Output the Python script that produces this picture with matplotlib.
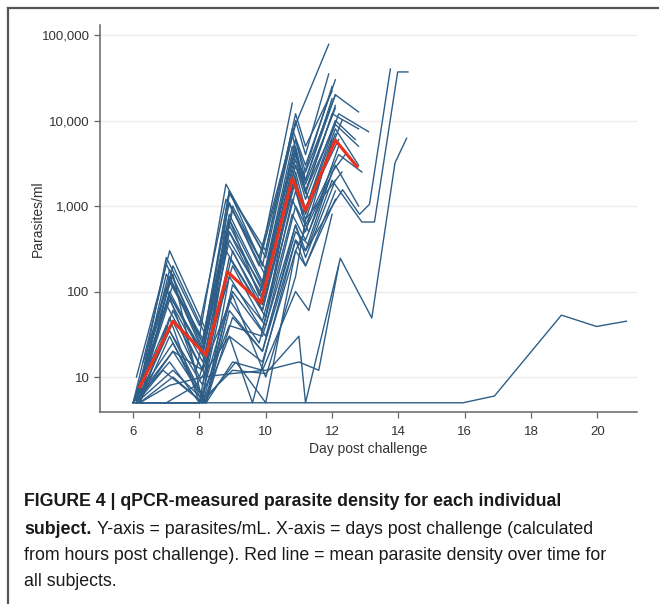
import matplotlib
matplotlib.use("Agg")
import matplotlib.pyplot as plt
from matplotlib.lines import Line2D
from matplotlib import font_manager

# ---------------- data ----------------
subject_days = [
    [6.1, 7.0, 8.0, 8.8, 9.9, 10.9, 11.9],
    [6.1, 7.1, 8.1, 8.9, 9.9, 10.8, 11.2, 12.1],
    [6.2, 7.2, 8.1, 9.0, 10.0, 10.9, 11.2, 12.1, 12.8],
    [6.0, 7.1, 8.2, 8.9, 9.9, 10.9, 11.3, 12.2, 13.1],
    [6.1, 7.0, 8.0, 8.8, 9.8, 10.8, 11.1, 12.0],
    [6.2, 7.2, 8.2, 9.0, 9.9, 10.9, 11.2, 12.1, 12.8],
    [6.1, 7.1, 8.1, 8.9, 9.9, 10.9, 11.2, 12.1],
    [6.0, 7.0, 8.1, 8.9, 10.0, 10.8, 11.2, 12.0, 12.3],
    [6.1, 7.2, 8.2, 8.9, 9.9, 10.9, 11.2, 12.07, 12.32, 12.83, 13.13, 13.76],
    [6.2, 7.1, 8.1, 9.0, 10.0, 10.9, 11.3, 12.0, 12.9, 13.28, 13.98, 14.29],
    [6.0, 7.0, 8.0, 9.0, 10.0, 11.0, 11.2, 12.25, 13.2, 13.9, 14.25],
    [6.9, 8.0, 9.0, 10.0, 11.0, 12.0, 13.0, 14.0, 15.95, 16.9, 18.92, 19.98, 20.88],
    [6.1, 7.1, 8.1, 8.9, 9.9, 10.9, 11.2, 12.1, 12.8],
    [6.2, 7.2, 8.2, 9.0, 10.0, 10.9, 11.2, 12.1],
    [6.1, 7.0, 8.1, 8.8, 9.9, 10.9, 11.1, 12.2],
    [6.0, 7.1, 8.0, 8.9, 9.8, 10.8, 11.2, 12.1, 12.8],
    [6.2, 7.2, 8.1, 8.9, 9.9, 10.9, 11.2, 12.1],
    [6.1, 7.0, 8.2, 9.0, 9.9, 10.9, 11.3, 12.0],
    [6.0, 7.1, 8.2, 8.9, 10.0, 10.9, 11.2, 11.9],
    [6.1, 7.2, 8.0, 9.0, 9.9, 10.9, 11.2, 12.2, 12.9],
    [6.2, 7.1, 8.1, 8.9, 9.9, 10.8, 11.2, 12.0],
    [6.1, 7.1, 8.1, 8.9, 9.9, 10.9, 11.2, 12.1, 12.7],
    [6.0, 7.2, 8.2, 9.0, 10.0, 10.9, 11.3, 12.2],
    [6.1, 7.0, 8.1, 8.9, 9.8, 10.8],
    [6.2, 7.1, 8.0, 8.8, 9.9, 10.9, 11.2, 12.1],
    [6.1, 7.2, 8.2, 9.0, 9.9, 10.9, 11.2, 12.0, 12.4],
    [6.2, 7.1, 8.1, 9.0, 10.0, 11.0, 11.6, 12.2],
    [6.1, 7.0, 8.0, 8.9, 9.9, 10.9, 11.2, 12.1],
    [6.0, 7.1, 8.1, 8.9, 9.9, 10.9, 11.2, 12.0, 12.8],
    [6.1, 7.1, 8.2, 8.9, 9.9, 10.8, 11.2, 12.0],
    [6.3, 7.0, 7.9, 8.9, 9.8, 10.9, 11.2, 12.1],
    [6.0, 7.2, 8.1, 9.0, 10.0, 10.9, 11.2, 12.3],
    [6.2, 7.0, 7.9, 8.9, 9.6, 10.9, 11.2, 12.1],
    [6.1, 6.9, 8.1, 9.1, 10.0, 10.9, 11.9],
    [6.0, 7.2, 8.1, 8.9, 10.0, 10.9, 11.2, 12.0],
]
subject_values = [
    [10, 210, 30, 1800, 300, 9000, 78000],
    [5, 180, 25, 1500, 200, 8000, 3000, 30000],
    [8, 120, 20, 900, 150, 6000, 2500, 20000, 12600],
    [5, 90, 15, 500, 80, 3000, 1200, 12000, 7400],
    [5, 250, 40, 1200, 250, 7000, 2000, 25000],
    [5, 60, 10, 300, 60, 2500, 900, 8000, 3000],
    [6, 150, 22, 700, 120, 5000, 1500, 15000],
    [5, 40, 8, 250, 50, 2000, 700, 5000, 10000],
    [5, 20, 5, 60, 20, 400, 300, 1100, 1550, 800, 1050, 40000],
    [5, 30, 5, 100, 30, 500, 350, 2000, 650, 650, 37000, 37000],
    [5, 5, 5, 12, 11, 30, 5, 245, 49, 3200, 6200],
    [5, 5, 5, 5, 5, 5, 5, 5, 5, 6, 53, 39, 45],
    [5, 100, 18, 600, 100, 4000, 1500, 9000, 5000],
    [5, 200, 30, 1000, 180, 6000, 2000, 20000],
    [5, 70, 12, 400, 70, 2200, 800, 6000],
    [5, 15, 5, 80, 25, 800, 400, 3000, 1000],
    [5, 10, 5, 30, 15, 300, 200, 1500],
    [5, 5, 5, 15, 12, 100, 60, 800],
    [5, 300, 35, 1500, 250, 10000, 4000, 35000],
    [5, 45, 10, 200, 45, 1500, 600, 4000, 2500],
    [5, 130, 25, 800, 130, 5000, 2000, 18000],
    [5, 80, 15, 400, 90, 3000, 1200, 10000, 6000],
    [5, 25, 5, 120, 40, 1000, 500, 5000],
    [5, 160, 28, 1100, 200, 16000],
    [5, 50, 5, 300, 60, 2000, 800, 7000],
    [5, 12, 5, 50, 20, 600, 300, 2500, 4000],
    [5, 8, 10, 11, 12, 15, 12, 200],
    [5, 5, 5, 40, 30, 600, 250, 2000],
    [5, 90, 20, 500, 110, 3500, 1400, 12000, 8000],
    [5, 35, 5, 150, 35, 1200, 500, 6000],
    [15, 110, 12, 700, 90, 4500, 1800, 14000],
    [5, 20, 12, 90, 10, 150, 700, 2500],
    [5, 5, 8, 30, 5, 400, 200, 1200],
    [5, 12, 5, 15, 5, 300, 2000],
    [5, 160, 5, 1400, 300, 12000, 5000, 22000],
]
mean_days = [6.2, 7.2, 8.2, 8.85, 9.85, 10.8, 11.2, 12.1, 12.75]
mean_values = [7.7, 45, 18, 170, 73, 2100, 890, 5900, 2900]

y_ticks = [10, 100, 1000, 10000, 100000]
y_tick_labels = ["10", "100", "1,000", "10,000", "100,000"]
x_ticks = [6, 8, 10, 12, 14, 16, 18, 20]

x_label = "Day post challenge"
y_label = "Parasites/ml"
caption_bold_1 = "FIGURE 4 | qPCR-measured parasite density for each individual"
caption_bold_2 = "subject."
caption_rest_2 = "Y-axis = parasites/mL. X-axis = days post challenge (calculated"
caption_line_3 = "from hours post challenge). Red line = mean parasite density over time for"
caption_line_4 = "all subjects."

# ---------------- fonts ----------------
def has_font(name):
    try:
        font_manager.findfont(font_manager.FontProperties(family=name), fallback_to_default=False)
        return True
    except Exception:
        return False

axis_font = "Liberation Sans" if has_font("Liberation Sans") else "DejaVu Sans"
cap_font = "Liberation Sans Narrow" if has_font("Liberation Sans Narrow") else axis_font
plt.rcParams["font.family"] = [axis_font, "DejaVu Sans"]

W, H = 659, 604
fig = plt.figure(figsize=(W / 100, H / 100), dpi=100)
fig.patch.set_facecolor("white")

# axes occupies px x 100..637, y 25..412
ax = fig.add_axes([100 / W, 1 - 412 / H, 537 / W, 387 / H])
ax.set_yscale("log")
ax.set_xlim(5.0, 21.2)
ax.set_ylim(3.9, 131000)

blue = "#2e5e87"
for d, v in zip(subject_days, subject_values):
    ax.plot(d, v, color=blue, lw=1.0, zorder=2)
ax.plot(mean_days, mean_values, color="#e8321e", lw=2.3, zorder=3)

ax.set_yticks(y_ticks)
ax.set_yticklabels(y_tick_labels)
ax.minorticks_off()
ax.set_xticks(x_ticks)
ax.grid(axis="y", color="#ececec", lw=1.0, zorder=0)
ax.grid(axis="x", visible=False)
for s in ["top", "right"]:
    ax.spines[s].set_visible(False)
for s in ["left", "bottom"]:
    ax.spines[s].set_color("#666666")
    ax.spines[s].set_linewidth(1.1)
ax.tick_params(axis="both", colors="#666666", labelcolor="#333333", labelsize=9.5,
               length=4, width=0.9, direction="out")
ax.tick_params(axis="x", pad=6)
ax.set_xlabel(x_label, fontsize=10, color="#333333", labelpad=3)
ax.set_ylabel(y_label, fontsize=10, color="#333333", va="center")
ax.yaxis.set_label_coords((38 - 100) / 537, 0.5)

# outer frame (top + left only)
fig.add_artist(Line2D([8 / W, 1.0], [1 - 8 / H, 1 - 8 / H], transform=fig.transFigure,
                      color="#555555", lw=1.6))
fig.add_artist(Line2D([8 / W, 8 / W], [1 - 8 / H, 0.0], transform=fig.transFigure,
                      color="#555555", lw=1.6))

# caption
fig.canvas.draw()
renderer = fig.canvas.get_renderer()
cap_family = [cap_font, "DejaVu Sans"]

def text_width(txt, weight, size):
    t = fig.text(0, 0, txt, fontsize=size, fontweight=weight, family=cap_family)
    w = t.get_window_extent(renderer).width
    t.remove()
    return w

size_r = 12 * 586 / text_width(caption_line_3, "normal", 12)
size_b = size_r
cap_kw = dict(family=cap_family, color="#1a1a1a", va="center", ha="left")
fig.text(24 / W, 1 - 502 / H, caption_bold_1, fontsize=size_b, fontweight="bold", **cap_kw)
fig.text(24 / W, 1 - 529 / H, caption_bold_2, fontsize=size_b, fontweight="bold", **cap_kw)
bold_w = text_width(caption_bold_2, "bold", size_b)
fig.text((24 + bold_w + 6) / W, 1 - 529 / H, caption_rest_2, fontsize=size_r, **cap_kw)
fig.text(24 / W, 1 - 556 / H, caption_line_3, fontsize=size_r, **cap_kw)
fig.text(24 / W, 1 - 582 / H, caption_line_4, fontsize=size_r, **cap_kw)

fig.savefig("out.png", dpi=100, facecolor="white")
